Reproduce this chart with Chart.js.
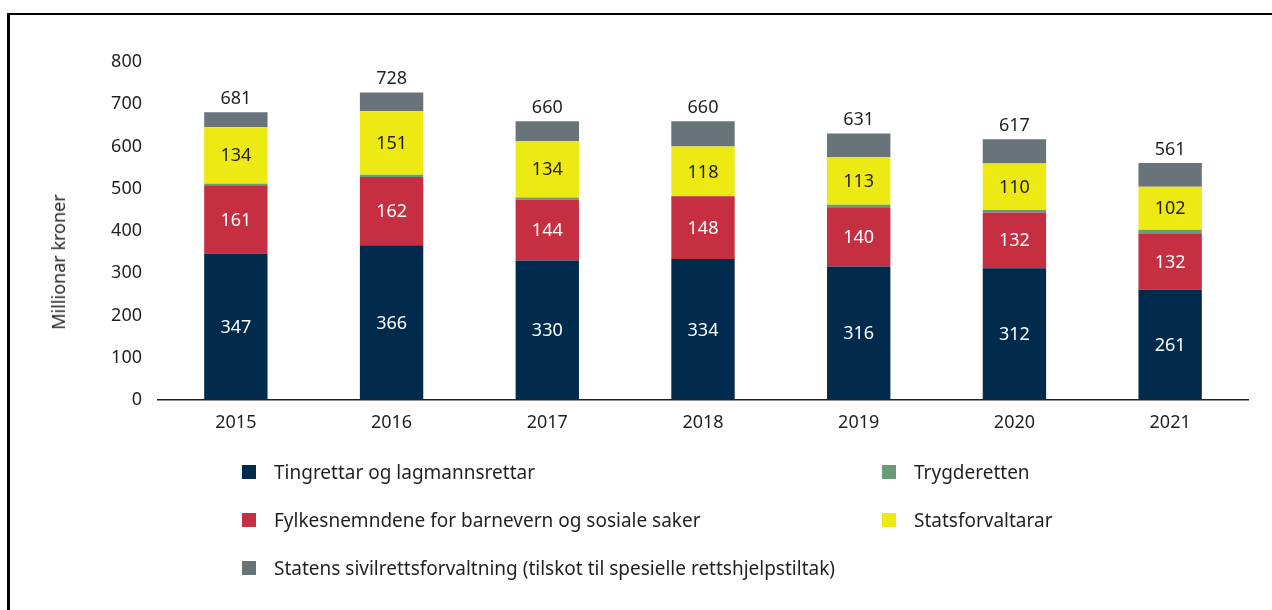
<!DOCTYPE html>
<html lang="nn">
<head>
<meta charset="utf-8">
<script src="https://cdn.jsdelivr.net/npm/chart.js@4.4.1/dist/chart.umd.min.js"></script>
<style>
  html, body { margin: 0; padding: 0; background: #fff; }
  body { width: 1272px; height: 610px; position: relative; overflow: hidden; font-family: "Noto Sans", sans-serif; color: #231f20; }
  #frame { position: absolute; left: 7px; top: 13px; width: 1400px; height: 700px; border-left: 3px solid #000; border-top: 2px solid #000; }
  #chart { position: absolute; left: 0; top: 0; }
  #yTitle { position: absolute; left: 58px; top: 262px; transform: translate(-50%, -50%) rotate(-90deg); font-size: 18px; white-space: nowrap; }
  #legend { position: absolute; left: 242px; top: 448px; display: grid; grid-template-columns: 640px auto; grid-auto-rows: 48px; }
  .item { display: flex; align-items: center; font-size: 19px; white-space: nowrap; }
  .box { width: 14px; height: 14px; margin-right: 18px; flex: none; }
</style>
</head>
<body>
<div id="frame"></div>
<canvas id="chart" width="1272" height="610"></canvas>
<div id="yTitle">Millionar kroner</div>
<div id="legend"></div>
<script>
const years = ["2015", "2016", "2017", "2018", "2019", "2020", "2021"];

const tingrett = [347, 366, 330, 334, 316, 312, 261];
const fylkesnemnd = [161, 162, 144, 148, 140, 132, 132];
const trygderett = [4, 5, 5, 0, 6, 6, 10];
const statsforvaltar = [134, 151, 134, 118, 113, 110, 102];
const sivilretts = [35, 44, 47, 60, 56, 57, 56];

const seriesNames = [
  "Tingrettar og lagmannsrettar",
  "Fylkesnemndene for barnevern og sosiale saker",
  "Trygderetten",
  "Statsforvaltarar",
  "Statens sivilrettsforvaltning (tilskot til spesielle rettshjelpstiltak)",
];
const seriesColors = ["#012b4d", "#c62f41", "#6a9b74", "#ede913", "#68737a"];
const labelColors = ["#ffffff", "#ffffff", null, "#231f20", null];
// legend runs in two columns, row by row
const legendOrder = [0, 2, 1, 3, 4];

const FONT = '"Noto Sans", sans-serif';
const TEXT = "#231f20";

const allSeries = [tingrett, fylkesnemnd, trygderett, statsforvaltar, sivilretts];

// verdiar inne i stolpane og summen over
const valueLabels = {
  id: "valueLabels",
  afterDatasetsDraw(chart) {
    const ctx = chart.ctx;
    ctx.save();
    ctx.font = "18px " + FONT;
    ctx.textAlign = "center";
    chart.data.datasets.forEach((ds, i) => {
      if (!labelColors[i]) return;
      ctx.fillStyle = labelColors[i];
      ctx.textBaseline = "middle";
      chart.getDatasetMeta(i).data.forEach((bar, j) => {
        ctx.fillText(String(ds.data[j]), bar.x, (bar.y + bar.base) / 2 + 1);
      });
    });
    const last = chart.getDatasetMeta(chart.data.datasets.length - 1);
    ctx.fillStyle = TEXT;
    ctx.textBaseline = "alphabetic";
    last.data.forEach((bar, j) => {
      const total = allSeries.reduce((sum, s) => sum + s[j], 0);
      ctx.fillText(String(total), bar.x, bar.y - 8);
    });
    ctx.restore();
  },
};

const ctx = document.getElementById("chart").getContext("2d");
new Chart(ctx, {
  type: "bar",
  data: {
    labels: years,
    datasets: allSeries.map((data, i) => ({
      label: seriesNames[i],
      data: data,
      backgroundColor: seriesColors[i],
      borderWidth: 0,
      barPercentage: 0.407,
      categoryPercentage: 1,
    })),
  },
  options: {
    responsive: false,
    animation: false,
    layout: { padding: { left: 43, right: 24, top: 62, bottom: 170 } },
    plugins: {
      legend: { display: false },
      tooltip: { enabled: false },
    },
    scales: {
      x: {
        stacked: true,
        grid: { display: false, drawTicks: false },
        border: { display: true, color: "#231f20", width: 1.5 },
        ticks: { color: TEXT, font: { family: FONT, size: 18 }, padding: 12 },
        afterFit: (scale) => { scale.height = 40; },
      },
      y: {
        stacked: true,
        min: 0,
        max: 800,
        grid: { display: false, drawTicks: false },
        border: { display: false },
        ticks: { stepSize: 100, color: TEXT, font: { family: FONT, size: 18 }, padding: 16 },
        afterFit: (scale) => { scale.width = 115; },
      },
    },
  },
  plugins: [valueLabels],
});

const legend = document.getElementById("legend");
legendOrder.forEach((i) => {
  const item = document.createElement("div");
  item.className = "item";
  const box = document.createElement("span");
  box.className = "box";
  box.style.background = seriesColors[i];
  item.appendChild(box);
  item.appendChild(document.createTextNode(seriesNames[i]));
  legend.appendChild(item);
});
</script>
</body>
</html>
